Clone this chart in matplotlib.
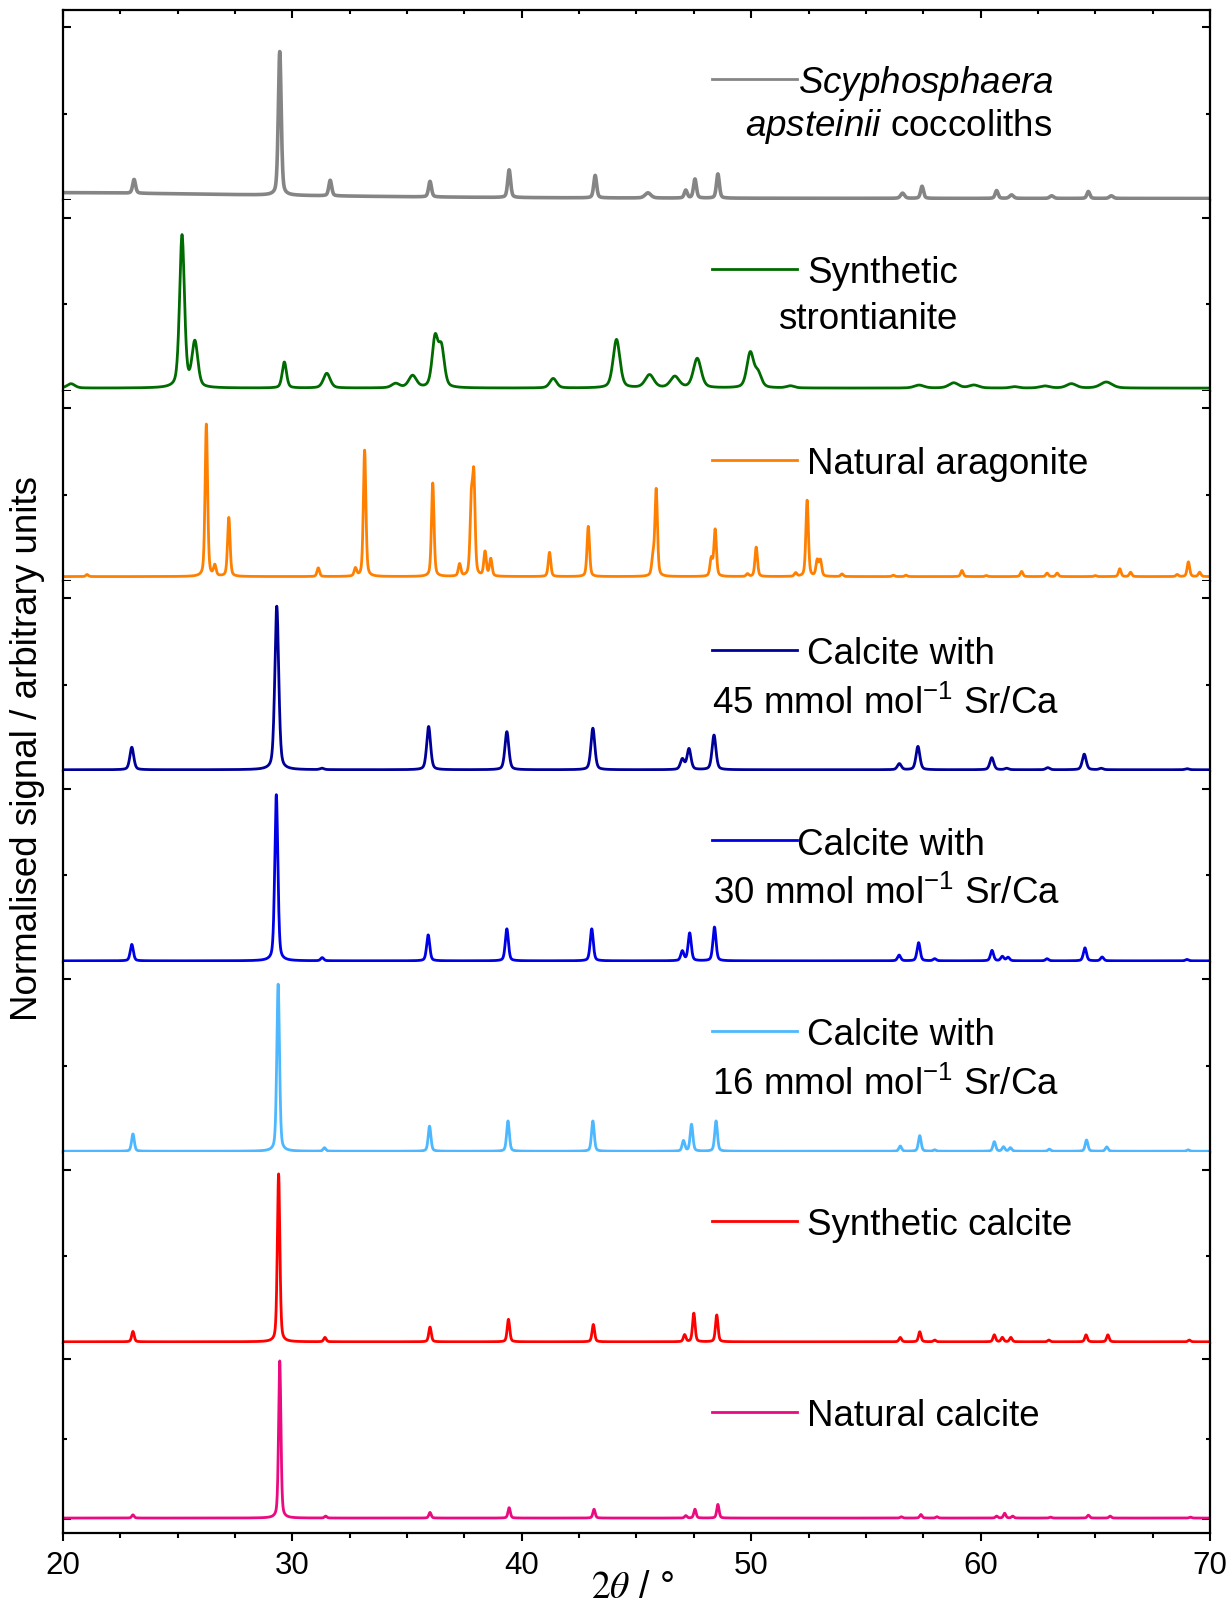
import numpy as np
import matplotlib
matplotlib.use('Agg')
import matplotlib.pyplot as plt

matplotlib.rc('font', family='Liberation Sans', size=22)
matplotlib.rcParams['mathtext.fontset'] = 'custom'
matplotlib.rcParams['mathtext.rm'] = 'Liberation Sans'
matplotlib.rcParams['mathtext.it'] = 'Liberation Sans:italic'

# peak lists: 2theta position, height above baseline, FWHM
cocco_pos = [18.0, 23.1, 29.45, 31.65, 36.0, 39.45, 43.2, 45.5, 47.15, 47.55, 48.55,
             56.6, 57.45, 60.7, 61.35, 63.1, 64.7, 65.7]
cocco_h = [0.035, 0.08, 0.83, 0.09, 0.09, 0.16, 0.13, 0.03, 0.045, 0.11, 0.14,
           0.03, 0.07, 0.045, 0.02, 0.015, 0.04, 0.015]
cocco_w = [25.0, 0.15, 0.15, 0.15, 0.15, 0.15, 0.15, 0.3, 0.15, 0.15, 0.15,
           0.2, 0.15, 0.15, 0.2, 0.2, 0.15, 0.2]
cocco_base = 0.01

stront_pos = [20.35, 25.19, 25.75, 29.65, 31.5, 34.5, 35.24, 36.22, 36.5, 41.37, 44.13,
              45.57, 46.67, 47.65, 49.96, 50.3, 51.71, 57.32, 58.83, 59.71, 61.47,
              62.8, 63.96, 65.48]
stront_h = [0.025, 0.88, 0.26, 0.15, 0.085, 0.025, 0.07, 0.28, 0.22, 0.055, 0.28,
            0.075, 0.065, 0.17, 0.2, 0.08, 0.012, 0.017, 0.03, 0.017, 0.008,
            0.012, 0.025, 0.035]
stront_w = [0.4, 0.25, 0.3, 0.22, 0.35, 0.4, 0.4, 0.3, 0.3, 0.35, 0.35,
            0.45, 0.45, 0.4, 0.35, 0.35, 0.4, 0.5, 0.5, 0.5, 0.4,
            0.5, 0.5, 0.6]
stront_base = 0.015

arag_pos = [21.05, 26.25, 26.62, 27.23, 31.13, 32.75, 33.15, 36.12, 37.29, 37.8, 37.91,
            38.4, 38.65, 41.21, 42.9, 45.72, 45.86, 48.26, 48.43, 49.84, 50.22, 51.94,
            52.44, 52.88, 53.02, 53.96, 56.2, 56.75, 59.19, 60.25, 61.79, 62.9, 63.34,
            65.0, 66.07, 66.54, 68.57, 69.06, 69.55]
arag_h = [0.012, 0.88, 0.06, 0.34, 0.05, 0.045, 0.73, 0.54, 0.07, 0.4, 0.55,
          0.14, 0.1, 0.14, 0.29, 0.1, 0.5, 0.1, 0.27, 0.015, 0.17, 0.02,
          0.44, 0.09, 0.09, 0.015, 0.008, 0.008, 0.035, 0.006, 0.03, 0.02, 0.02,
          0.006, 0.045, 0.025, 0.012, 0.085, 0.025]
arag_w = 0.13
arag_base = 0.026

sr45_pos = [23.0, 29.32, 31.29, 35.94, 39.35, 43.1, 47.0, 47.29, 48.38, 56.46, 57.27,
            60.49, 61.14, 62.93, 64.52, 65.26, 69.0]
sr45_h = [0.13, 0.945, 0.008, 0.25, 0.22, 0.24, 0.06, 0.12, 0.2, 0.035, 0.135,
          0.07, 0.008, 0.012, 0.09, 0.008, 0.006]
sr45_w = 0.2
sr45_base = 0.01

sr30_pos = [23.0, 29.3, 31.3, 35.92, 39.35, 43.05, 47.0, 47.32, 48.4, 56.45, 57.3,
            58.0, 60.5, 60.95, 61.2, 62.9, 64.55, 65.3, 69.0]
sr30_h = [0.095, 0.96, 0.018, 0.15, 0.185, 0.185, 0.055, 0.16, 0.195, 0.033, 0.105,
          0.012, 0.06, 0.025, 0.02, 0.012, 0.075, 0.022, 0.008]
sr30_w = 0.16
sr30_base = 0.006

sr16_pos = [23.05, 29.38, 31.4, 35.98, 39.4, 43.1, 47.05, 47.4, 48.47, 56.5, 57.35,
            58.0, 60.6, 61.0, 61.3, 63.0, 64.62, 65.5, 69.05]
sr16_h = [0.1, 0.965, 0.02, 0.145, 0.175, 0.175, 0.06, 0.155, 0.175, 0.03, 0.09,
          0.008, 0.055, 0.025, 0.02, 0.012, 0.065, 0.025, 0.008]
sr16_w = 0.14
sr16_base = 0.006

syncal_pos = [23.05, 29.4, 31.42, 36.0, 39.42, 43.12, 47.1, 47.5, 48.5, 56.5, 57.35,
              58.0, 60.6, 60.95, 61.32, 62.98, 64.6, 65.55, 69.1]
syncal_h = [0.06, 0.97, 0.025, 0.085, 0.13, 0.1, 0.04, 0.165, 0.155, 0.025, 0.058,
            0.01, 0.04, 0.025, 0.025, 0.01, 0.04, 0.04, 0.01]
syncal_w = 0.13
syncal_base = 0.005

natcal_pos = [23.05, 29.45, 31.45, 36.0, 39.45, 43.15, 47.15, 47.55, 48.55, 56.55, 57.4,
              58.1, 60.7, 61.05, 61.4, 63.05, 64.7, 65.65, 69.15]
natcal_h = [0.02, 0.98, 0.012, 0.035, 0.065, 0.055, 0.015, 0.055, 0.085, 0.008, 0.022,
            0.008, 0.012, 0.03, 0.012, 0.006, 0.018, 0.012, 0.006]
natcal_w = 0.12
natcal_base = 0.006

labels = [
    [(r'$\it{Scyphosphaera}$', 52.04), (r'$\it{apsteinii}$ coccoliths', 49.73)],
    [('Synthetic', 52.43), ('strontianite', 51.17)],
    [('Natural aragonite', 52.43)],
    [('Calcite with', 52.43), (r'45 mmol mol$^{\mathregular{-1}}$ Sr/Ca', 48.29)],
    [('Calcite with', 52.0), (r'30 mmol mol$^{\mathregular{-1}}$ Sr/Ca', 48.33)],
    [('Calcite with', 52.43), (r'16 mmol mol$^{\mathregular{-1}}$ Sr/Ca', 48.29)],
    [('Synthetic calcite', 52.43)],
    [('Natural calcite', 52.43)],
]
second_line_y = [0.344, 0.328, None, 0.307, 0.307, 0.307, None, None]
colors = ['#858585', '#006b00', '#ff8000', '#000099', '#0000e6', '#4db8ff', '#ff0000', '#eb0a80']
widths = [2.6, 2.0, 2.0, 2.0, 2.0, 2.0, 2.0, 2.0]
ylims = [(0, 1.1)] * 7 + [(-0.0875, 1.1)]

peaks = [(cocco_pos, cocco_h, cocco_w, cocco_base),
         (stront_pos, stront_h, stront_w, stront_base),
         (arag_pos, arag_h, arag_w, arag_base),
         (sr45_pos, sr45_h, sr45_w, sr45_base),
         (sr30_pos, sr30_h, sr30_w, sr30_base),
         (sr16_pos, sr16_h, sr16_w, sr16_base),
         (syncal_pos, syncal_h, syncal_w, syncal_base),
         (natcal_pos, natcal_h, natcal_w, natcal_base)]


def pattern(x, pos, h, w, base):
    # pseudo-Voigt sum for the read-off reflections
    w = np.broadcast_to(np.asarray(w, dtype=float), (len(pos),))
    y = np.full_like(x, base)
    for p, a, fw in zip(pos, h, w):
        d = (x - p) / fw
        y += a * (0.6 * np.exp(-4 * np.log(2) * d**2) + 0.4 / (1 + 4 * d**2))
    return y


tt = np.arange(20, 70.0001, 0.01)

fig, axes = plt.subplots(8, 1, figsize=(12.3, 16.06), dpi=100, sharex=True)
fig.subplots_adjust(left=0.0512, right=0.9837, bottom=0.0448, top=0.9932, hspace=0)

for i, ax in enumerate(axes):
    pos, h, w, base = peaks[i]
    ax.plot(tt, pattern(tt, pos, h, w, base), color=colors[i], lw=widths[i])
    ax.set_xlim(20, 70)
    ax.set_ylim(*ylims[i])
    ax.set_yticks([0, 1])
    ax.set_yticks([0.5], minor=True)
    ax.set_yticklabels([])
    ax.tick_params(axis='y', which='both', direction='in', left=True, right=True, width=1.5)
    ax.tick_params(axis='y', which='major', length=6)
    ax.tick_params(axis='y', which='minor', length=3)
    for s in ax.spines.values():
        s.set_linewidth(1.6)
    if i > 0:
        ax.spines['top'].set_visible(False)
    if i < 7:
        ax.spines['bottom'].set_visible(False)
    ax.tick_params(axis='x', which='both', bottom=False, top=False)

    # legend: short line + text lines
    trans = ax.get_xaxis_transform()
    ax.plot([48.29, 52.0], [0.6376, 0.6376], color=colors[i], lw=2.0, transform=trans)
    for j, (txt, x0) in enumerate(labels[i]):
        yy = 0.569 if j == 0 else second_line_y[i]
        ax.text(x0, yy, txt, transform=trans, ha='left', va='baseline', fontsize=26.5)

axes[0].tick_params(axis='x', which='both', top=True, direction='in', width=1.5)
axes[0].tick_params(axis='x', which='major', length=6)
axes[0].tick_params(axis='x', which='minor', length=3)
ax = axes[-1]
ax.set_xticks([20, 30, 40, 50, 60, 70])
ax.set_xticks(np.arange(20, 70.1, 2.5), minor=True)
ax.tick_params(axis='x', which='both', bottom=True, direction='out', width=1.5, labelsize=22.5, pad=6)
ax.tick_params(axis='x', which='major', length=6)
ax.tick_params(axis='x', which='minor', length=3.5)

fig.text(28 / 1230, 1 - 749 / 1606, 'Normalised signal / arbitrary units', rotation=90,
         ha='center', va='center', fontsize=26.5)
fig.text(0.514, 0.0, r'$2\theta$ / °', math_fontfamily='stix', ha='center',
         va='bottom', fontsize=27)

plt.savefig('out.png', dpi=100)
